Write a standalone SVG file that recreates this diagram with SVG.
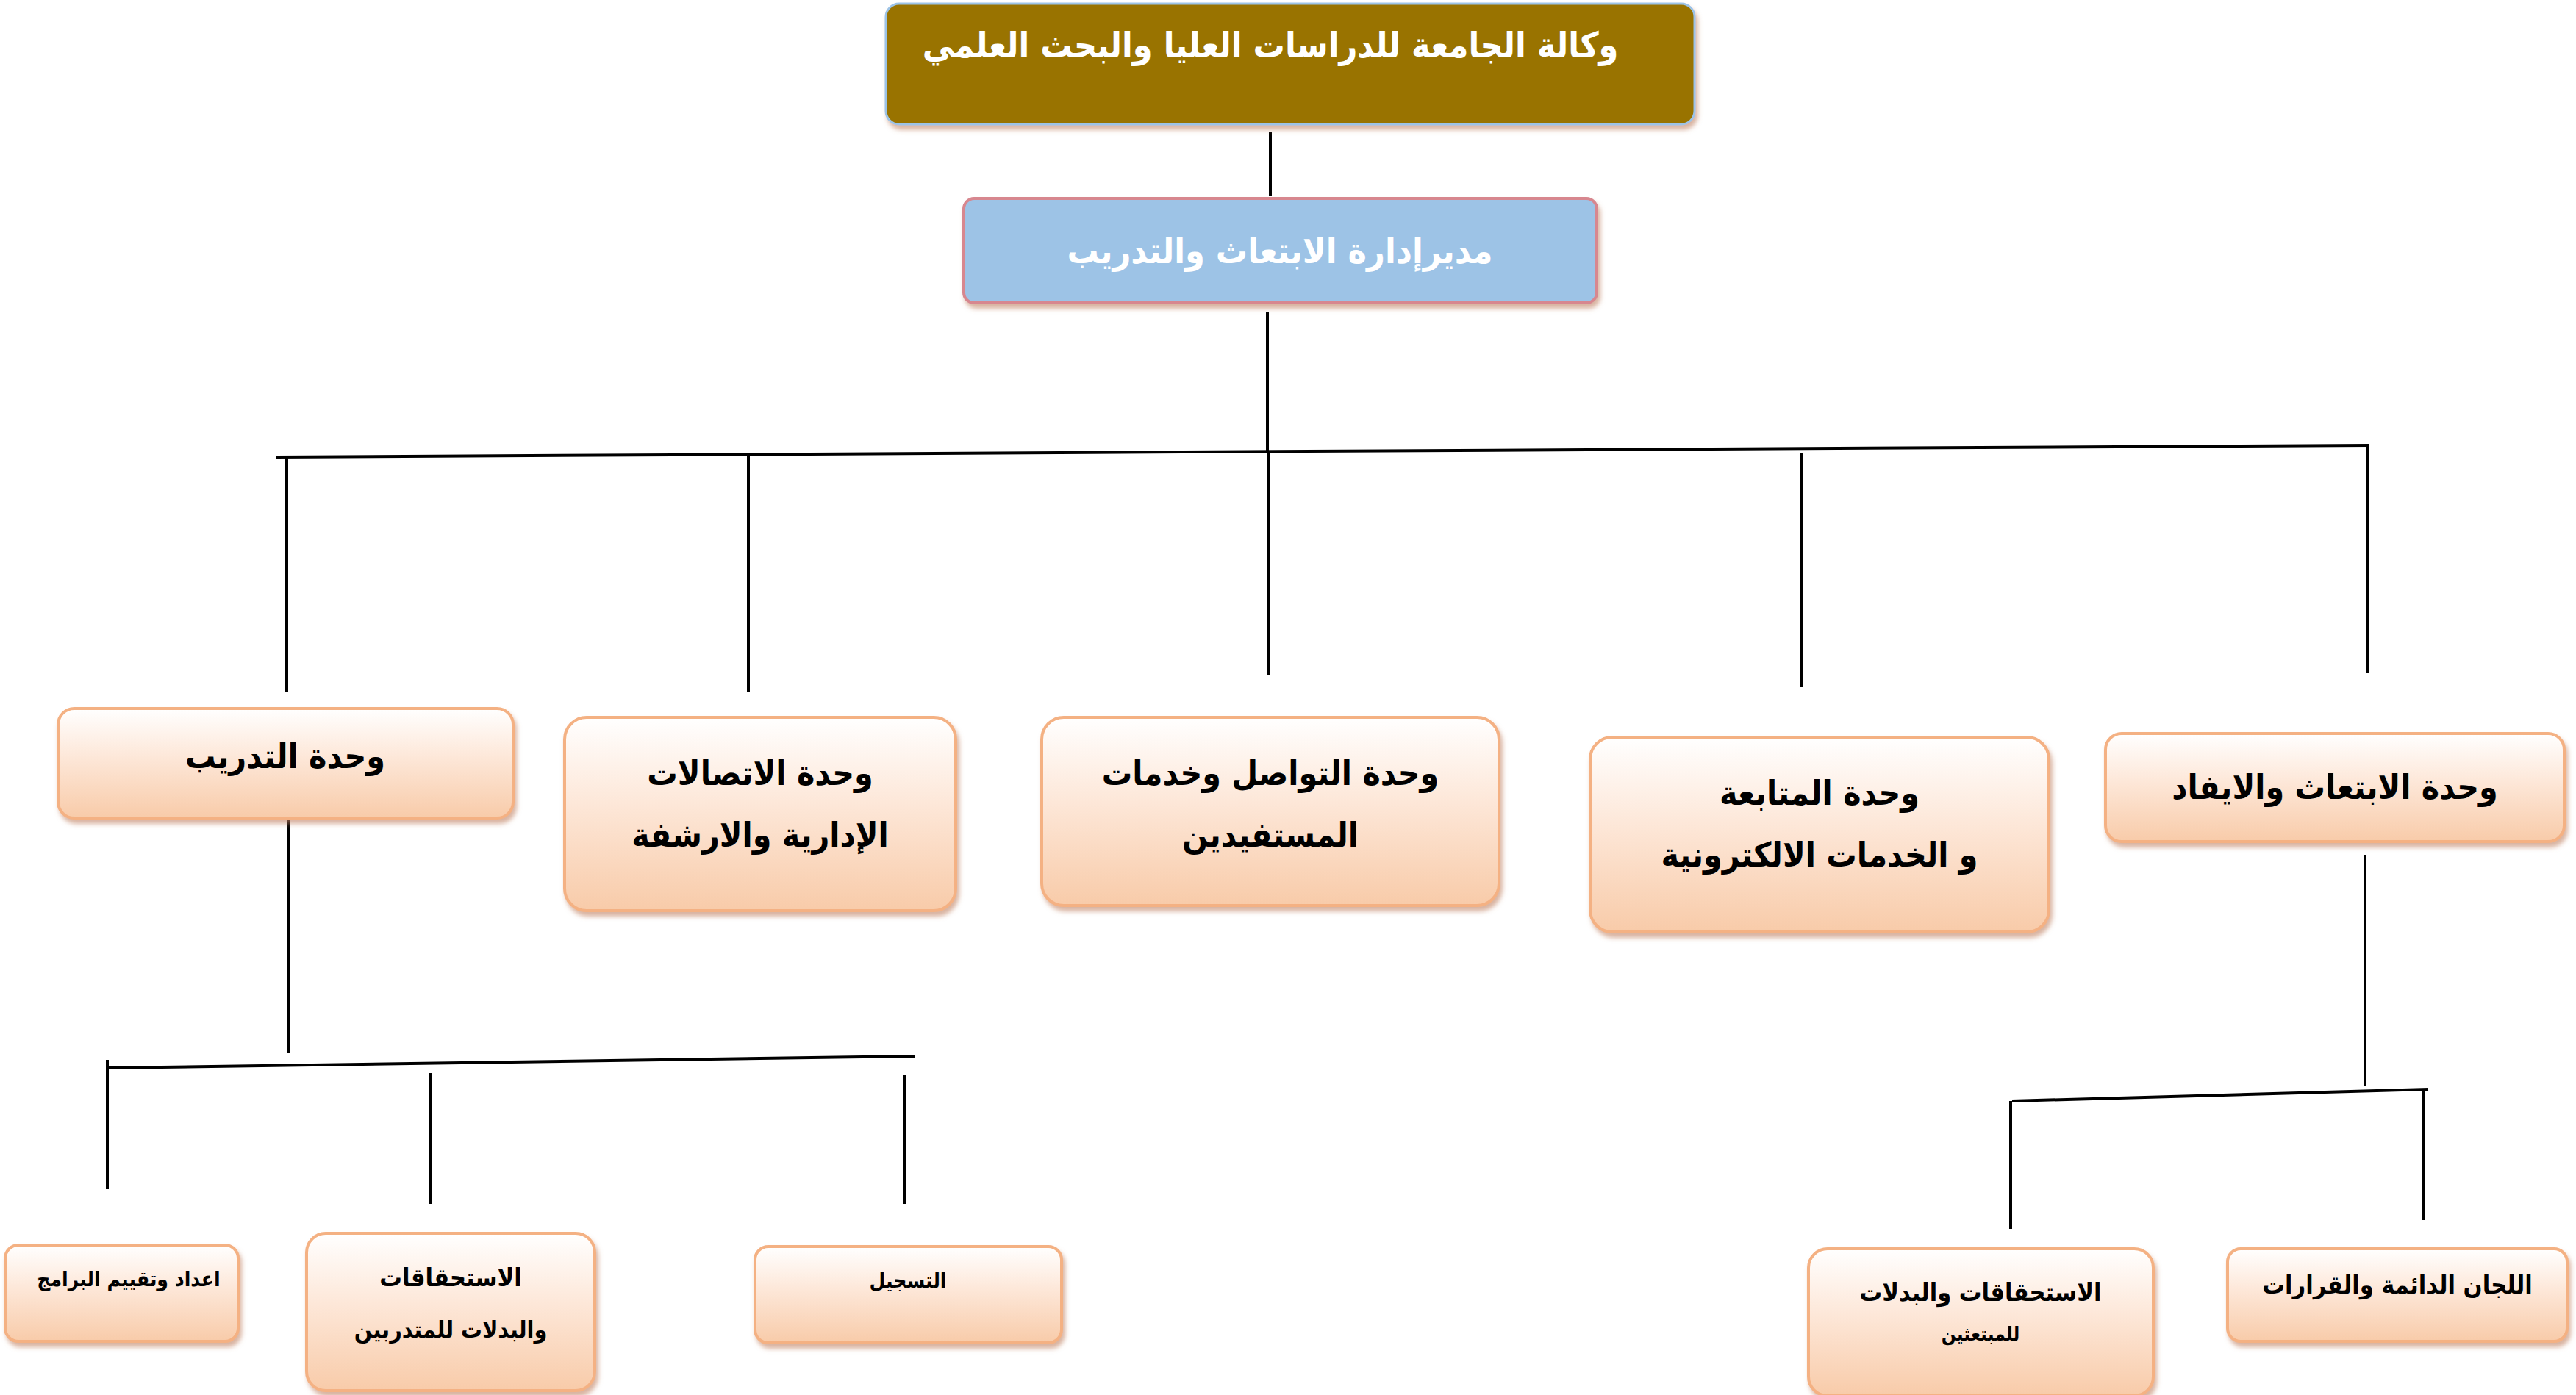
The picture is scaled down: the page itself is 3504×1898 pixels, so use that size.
<svg xmlns="http://www.w3.org/2000/svg" width="3504" height="1898" viewBox="0 0 3504 1898">
<defs>
<linearGradient id="pg" x1="0" y1="0" x2="0" y2="1"><stop offset="0" stop-color="#FFFFFF"/><stop offset="0.45" stop-color="#FDE7D8"/><stop offset="1" stop-color="#F8CBA9"/></linearGradient>
<filter id="sh" x="-5%" y="-5%" width="110%" height="120%"><feDropShadow dx="3" dy="6" stdDeviation="3" flood-color="#C08060" flood-opacity="0.6"/></filter>
</defs>
<style>
.n{fill:url(#pg);stroke:#F4B183;stroke-width:4;filter:url(#sh)}
.t{font-family:"DejaVu Sans Condensed","DejaVu Sans",sans-serif;font-weight:bold;fill:#000;text-anchor:middle;direction:rtl}
.c line{stroke:#000;stroke-width:4}
</style>
<rect width="3504" height="1898" fill="#fff"/>
<g class="c">
<line x1="1728" y1="180" x2="1728" y2="266"/>
<line x1="1724" y1="424" x2="1724" y2="614"/>
<line x1="376" y1="622" x2="3222" y2="606"/>
<line x1="390" y1="622" x2="390" y2="942"/>
<line x1="1018" y1="620" x2="1018" y2="942"/>
<line x1="1726" y1="614" x2="1726" y2="919"/>
<line x1="2451" y1="616" x2="2451" y2="935"/>
<line x1="3220" y1="606" x2="3220" y2="915"/>
<line x1="392" y1="1115" x2="392" y2="1433"/>
<line x1="146" y1="1453" x2="1244" y2="1437"/>
<line x1="146" y1="1442" x2="146" y2="1618"/>
<line x1="586" y1="1460" x2="586" y2="1638"/>
<line x1="1230" y1="1462" x2="1230" y2="1638"/>
<line x1="3217" y1="1163" x2="3217" y2="1478"/>
<line x1="2737" y1="1498" x2="3303" y2="1482"/>
<line x1="2735" y1="1498" x2="2735" y2="1672"/>
<line x1="3296" y1="1482" x2="3296" y2="1660"/>
</g>
<g id="top"><rect x="1205" y="5" width="1100" height="164" rx="18" fill="#997300" stroke="#9DC3E6" stroke-width="3" filter="url(#sh)"/>
<text class="t" x="1728" y="78" font-size="48" style="fill:#fff">وكالة الجامعة للدراسات العليا والبحث العلمي</text></g>
<g id="dir"><rect x="1311" y="270" width="861" height="142" rx="14" fill="#9DC3E6" stroke="#D7878F" stroke-width="4" filter="url(#sh)"/>
<text class="t" x="1741" y="358" font-size="48" style="fill:#fff">مديرإدارة الابتعاث والتدريب</text></g>
<g id="u1"><rect class="n" x="79" y="964" width="619" height="149" rx="22"/><text class="t" x="388" y="1045" font-size="46">وحدة التدريب</text></g>
<g id="u2"><rect class="n" x="768" y="976" width="532" height="263" rx="30"/><text class="t" x="1034" y="1068" font-size="46">وحدة الاتصالات</text><text class="t" x="1034" y="1152" font-size="46">الإدارية والارشفة</text></g>
<g id="u3"><rect class="n" x="1417" y="976" width="622" height="256" rx="30"/><text class="t" x="1728" y="1068" font-size="46">وحدة التواصل وخدمات</text><text class="t" x="1728" y="1152" font-size="46">المستفيدين</text></g>
<g id="u4"><rect class="n" x="2163" y="1003" width="624" height="265" rx="30"/><text class="t" x="2475" y="1095" font-size="46">وحدة المتابعة</text><text class="t" x="2475" y="1179" font-size="46">و الخدمات الالكترونية</text></g>
<g id="u5"><rect class="n" x="2864" y="998" width="624" height="147" rx="22"/><text class="t" x="3176" y="1087" font-size="46">وحدة الابتعاث والايفاد</text></g>
<g id="s1"><rect class="n" x="7" y="1694" width="317" height="131" rx="18"/><text class="t" x="175" y="1750" font-size="28">اعداد وتقييم البرامج</text></g>
<g id="s2"><rect class="n" x="417" y="1678" width="392" height="214" rx="26"/><text class="t" x="613" y="1750" font-size="34">الاستحقاقات</text><text class="t" x="613" y="1820" font-size="32">والبدلات للمتدربين</text></g>
<g id="s3"><rect class="n" x="1027" y="1696" width="417" height="131" rx="18"/><text class="t" x="1235" y="1752" font-size="28">التسجيل</text></g>
<g id="s4"><rect class="n" x="2460" y="1699" width="469" height="200" rx="26"/><text class="t" x="2694" y="1770" font-size="34">الاستحقاقات والبدلات</text><text class="t" x="2694" y="1824" font-size="26">للمبتعثين</text></g>
<g id="s5"><rect class="n" x="3030" y="1699" width="462" height="126" rx="18"/><text class="t" x="3261" y="1760" font-size="34">اللجان الدائمة والقرارات</text></g>
</svg>
